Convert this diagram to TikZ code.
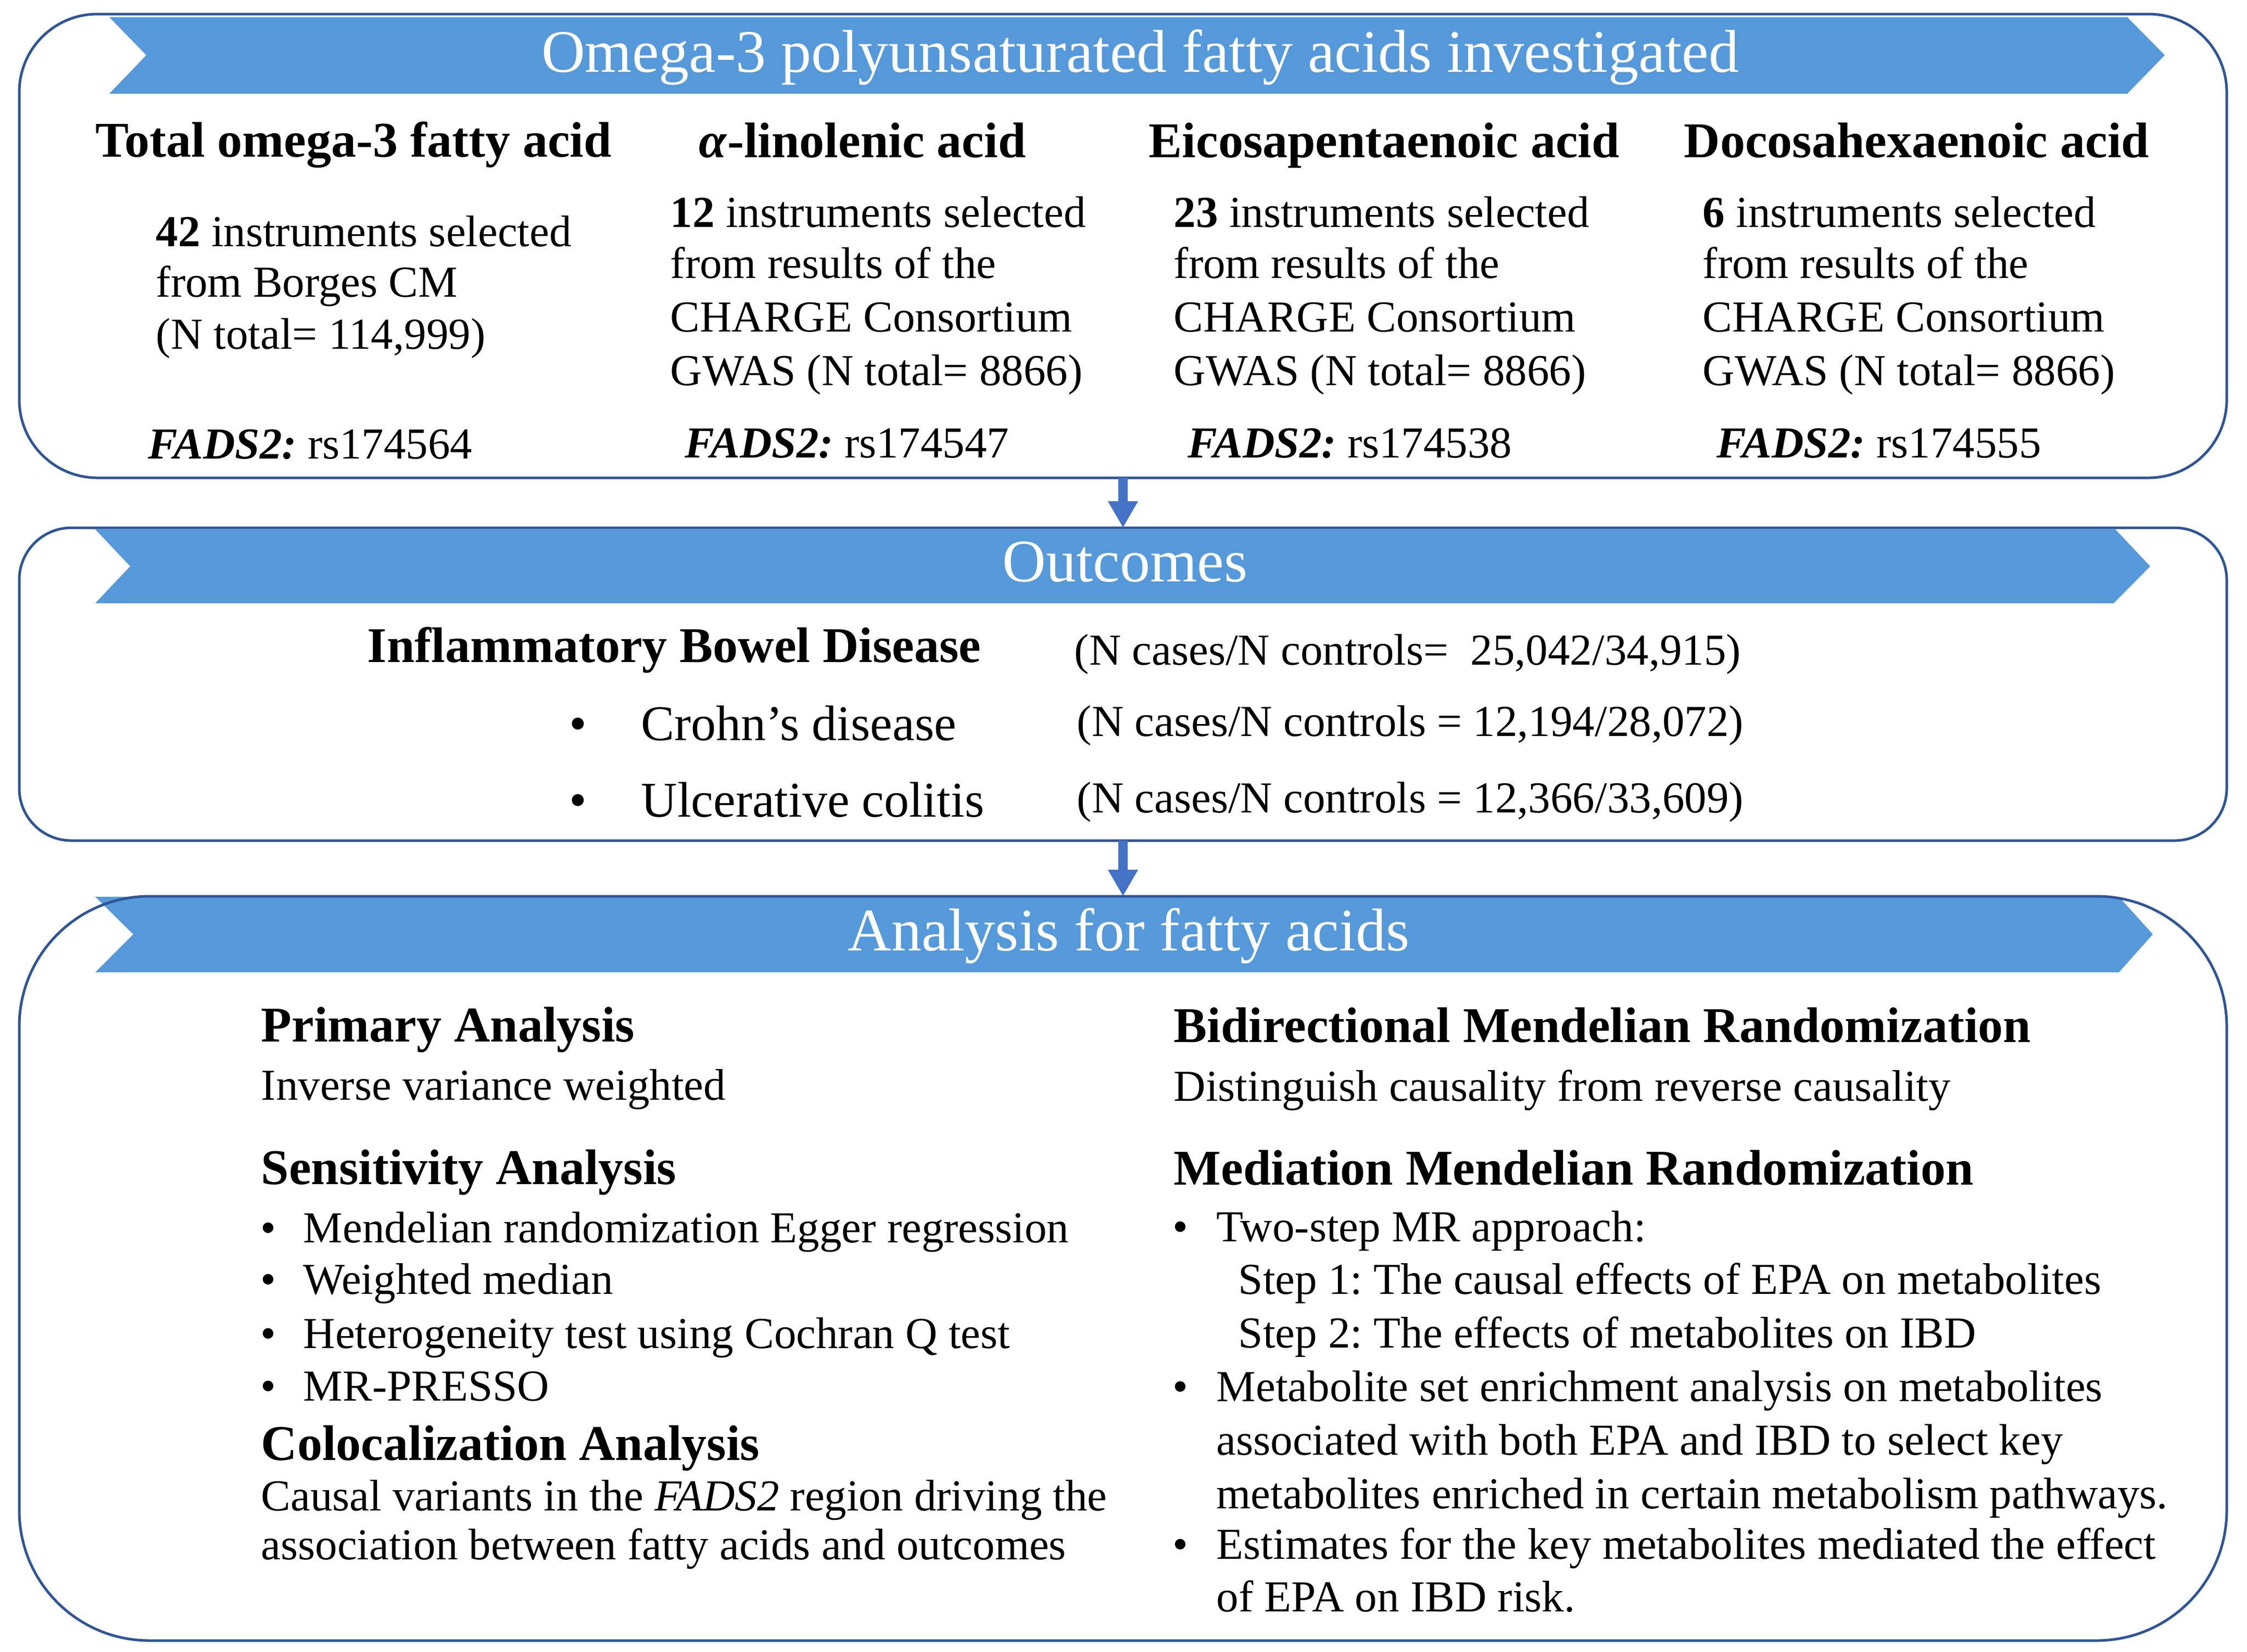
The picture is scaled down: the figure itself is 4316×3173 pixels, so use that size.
\documentclass[tikz,border=0pt]{standalone}
\usepackage{fontspec}
\setmainfont{Liberation Serif}
\usetikzlibrary{arrows.meta}
\definecolor{bannerblue}{RGB}{85,153,219}
\definecolor{boxblue}{RGB}{47,85,151}
\definecolor{arrowblue}{RGB}{68,114,196}
\frenchspacing
\tikzset{
  frame/.style={draw=boxblue, line width=1.25pt, inner sep=0pt, outer sep=0pt, minimum width=1060pt},
  banner/.style={fill=bannerblue},
  titletxt/.style={text=white, font=\fontsize{29}{34}\selectfont, inner sep=0pt, anchor=base},
  headtxt/.style={font=\fontsize{24}{28}\selectfont\bfseries, inner sep=0pt, anchor=base west},
  bodytxt/.style={font=\fontsize{21.25}{25}\selectfont, inner sep=0pt, anchor=base west},
  bigtxt/.style={font=\fontsize{24}{28}\selectfont, inner sep=0pt, anchor=base west},
  bul/.style={inner sep=0pt, anchor=base},
  flowarrow/.style={draw=arrowblue, line width=4.5pt, line cap=butt, -{Triangle[length=12.75pt,width=13.5pt]}}
}
\begin{document}
\begin{tikzpicture}[x=0.25pt,y=-0.25pt]
\useasboundingbox (0,0) rectangle (4316,3173);
\fill[white] (0,0) rectangle (4316,3173);

% banners
\fill[banner] (210,33) -- (4086,33) -- (4158,106) -- (4086,180) -- (210,180) -- (281,106) -- cycle;
\fill[banner] (183,1017) -- (4063,1017) -- (4130,1088) -- (4060,1159) -- (183,1159) -- (250,1088) -- cycle;
\fill[banner] (183,1723) -- (4070,1723) -- (4135,1795) -- (4070,1868) -- (183,1868) -- (256,1795) -- cycle;

% frames
\node[frame, minimum height=222.75pt, rounded corners=37.5pt] (box1) at (2157,472.5) {};
\node[frame, minimum height=150.25pt, rounded corners=25pt] (box2) at (2157,1314.5) {};
\node[frame, minimum height=357.5pt, rounded corners=62.5pt] (box3) at (2157,2437) {};

% arrows
\draw[flowarrow] (box1.south) -- (box2.north);
\draw[flowarrow] (box2.south) -- (box3.north);

% titles
\node[titletxt] (t1) at (2190,138) {Omega-3 polyunsaturated fatty acids investigated};
\node[titletxt] (t2) at (2161,1117) {Outcomes};
\node[titletxt] (t3) at (2168,1826) {Analysis for fatty acids};

% column 1
\node[headtxt] (h1) at (183,301) {Total omega-3 fatty acid};
\node[bodytxt] (c1a) at (299,473) {\textbf{42} instruments selected};
\node[bodytxt] (c1b) at (299,570) {from Borges CM};
\node[bodytxt] (c1c) at (299,670) {(N total= 114,999)};
\node[bodytxt] (c1f) at (284,881) {\textbf{\textit{FADS2:}} rs174564};
% column 2
\node[headtxt] (h2) at (1342,302) {\textit{α}-linolenic acid};
\node[bodytxt] (c2a) at (1287,436) {\textbf{12} instruments selected};
\node[bodytxt] (c2b) at (1287,534) {from results of the};
\node[bodytxt] (c2c) at (1287,637) {CHARGE Consortium};
\node[bodytxt] (c2d) at (1287,740) {GWAS (N total= 8866)};
\node[bodytxt] (c2f) at (1315,879) {\textbf{\textit{FADS2:}} rs174547};
% column 3
\node[headtxt] (h3) at (2206,302) {Eicosapentaenoic acid};
\node[bodytxt] (c3a) at (2254,436) {\textbf{23} instruments selected};
\node[bodytxt] (c3b) at (2254,534) {from results of the};
\node[bodytxt] (c3c) at (2254,637) {CHARGE Consortium};
\node[bodytxt] (c3d) at (2254,740) {GWAS (N total= 8866)};
\node[bodytxt] (c3f) at (2281,879) {\textbf{\textit{FADS2:}} rs174538};
% column 4
\node[headtxt] (h4) at (3234,302) {Docosahexaenoic acid};
\node[bodytxt] (c4a) at (3270,436) {\textbf{6} instruments selected};
\node[bodytxt] (c4b) at (3270,534) {from results of the};
\node[bodytxt] (c4c) at (3270,637) {CHARGE Consortium};
\node[bodytxt] (c4d) at (3270,740) {GWAS (N total= 8866)};
\node[bodytxt] (c4f) at (3297,879) {\textbf{\textit{FADS2:}} rs174555};

% outcomes
\node[headtxt] (ibd) at (705,1272) {Inflammatory Bowel Disease};
\node[bigtxt, bul] (ob1) at (1110,1422) {•};
\node[bigtxt] (cd) at (1231,1422) {Crohn’s disease};
\node[bigtxt, bul] (ob2) at (1110,1569) {•};
\node[bigtxt] (uc) at (1231,1569) {Ulcerative colitis};
\node[bodytxt] (n1) at (2063,1277) {(N cases/N controls=\ \ 25,042/34,915)};
\node[bodytxt] (n2) at (2068,1414) {(N cases/N controls = 12,194/28,072)};
\node[bodytxt] (n3) at (2068,1561) {(N cases/N controls = 12,366/33,609)};

% analysis left
\node[headtxt] (pa) at (501,2001) {Primary Analysis};
\node[bodytxt] (pa1) at (501,2113) {Inverse variance weighted};
\node[headtxt] (sa) at (501,2275) {Sensitivity Analysis};
\node[bodytxt, bul] (sb1) at (515,2387) {•};
\node[bodytxt] (sa1) at (582,2387) {Mendelian randomization Egger regression};
\node[bodytxt, bul] (sb2) at (515,2486) {•};
\node[bodytxt] (sa2) at (582,2486) {Weighted median};
\node[bodytxt, bul] (sb3) at (515,2590) {•};
\node[bodytxt] (sa3) at (582,2590) {Heterogeneity test using Cochran Q test};
\node[bodytxt, bul] (sb4) at (515,2691) {•};
\node[bodytxt] (sa4) at (582,2691) {MR-PRESSO};
\node[headtxt] (ca) at (501,2805) {Colocalization Analysis};
\node[bodytxt] (ca1) at (501,2902) {Causal variants in the \textit{FADS2} region driving the};
\node[bodytxt] (ca2) at (501,2996) {association between fatty acids and outcomes};

% analysis right
\node[headtxt] (bm) at (2254,2002) {Bidirectional Mendelian Randomization};
\node[bodytxt] (bm1) at (2254,2115) {Distinguish causality from reverse causality};
\node[headtxt] (mm) at (2254,2276) {Mediation Mendelian Randomization};
\node[bodytxt, bul] (mb1) at (2267,2385) {•};
\node[bodytxt] (mm1) at (2336,2385) {Two-step MR approach:};
\node[bodytxt] (mm2) at (2378,2486) {Step 1: The causal effects of EPA on metabolites};
\node[bodytxt] (mm3) at (2378,2589) {Step 2: The effects of metabolites on IBD};
\node[bodytxt, bul] (mb2) at (2267,2692) {•};
\node[bodytxt] (mm4) at (2336,2692) {Metabolite set enrichment analysis on metabolites};
\node[bodytxt] (mm5) at (2336,2795) {associated with both EPA and IBD to select key};
\node[bodytxt] (mm6) at (2336,2898) {metabolites enriched in certain metabolism pathways.};
\node[bodytxt, bul] (mb3) at (2267,2995) {•};
\node[bodytxt] (mm7) at (2336,2995) {Estimates for the key metabolites mediated the effect};
\node[bodytxt] (mm8) at (2336,3096) {of EPA on IBD risk.};
\end{tikzpicture}
\end{document}
